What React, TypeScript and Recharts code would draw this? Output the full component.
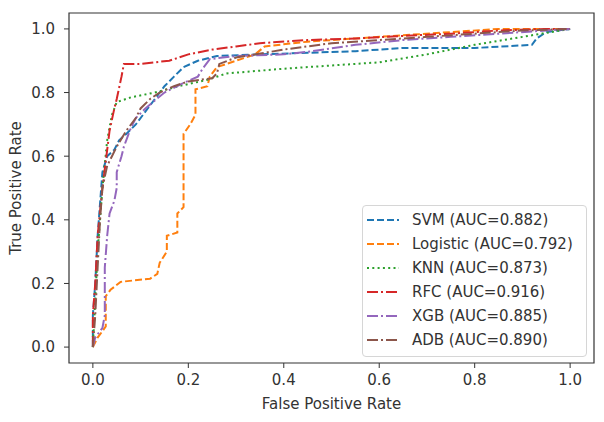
import { LineChart, Line, XAxis, YAxis, Legend, ReferenceArea, Label } from 'recharts';

// ROC points (false positive rate / true positive rate)
const svmFpr = [0, 0, 0.005, 0.01, 0.015, 0.02, 0.03, 0.045, 0.055, 0.07, 0.09, 0.11, 0.13, 0.15, 0.17, 0.19, 0.22, 0.26, 0.35, 0.45, 0.55, 0.65, 0.8, 0.92, 0.93, 0.95, 1];
const svmTpr = [0, 0.1, 0.2, 0.35, 0.45, 0.55, 0.6, 0.62, 0.65, 0.67, 0.7, 0.74, 0.78, 0.82, 0.85, 0.88, 0.9, 0.915, 0.92, 0.925, 0.93, 0.94, 0.94, 0.95, 0.97, 0.99, 1];

const logFpr = [0, 0.01, 0.02, 0.027, 0.027, 0.037, 0.058, 0.12, 0.135, 0.14, 0.155, 0.155, 0.177, 0.177, 0.19, 0.19, 0.204, 0.215, 0.215, 0.24, 0.245, 0.26, 0.3, 0.34, 0.36, 0.45, 0.55, 0.65, 0.75, 0.85, 1];
const logTpr = [0, 0.03, 0.05, 0.065, 0.16, 0.18, 0.205, 0.215, 0.23, 0.265, 0.3, 0.35, 0.36, 0.42, 0.44, 0.67, 0.7, 0.73, 0.81, 0.82, 0.85, 0.88, 0.9, 0.92, 0.945, 0.96, 0.97, 0.98, 0.99, 1, 1];

const knnFpr = [0, 0.01, 0.02, 0.03, 0.04, 0.05, 0.08, 0.13, 0.18, 0.24, 0.28, 0.4, 0.5, 0.6, 0.7, 0.8, 0.9, 1];
const knnTpr = [0, 0.3, 0.5, 0.65, 0.73, 0.77, 0.785, 0.8, 0.82, 0.84, 0.86, 0.875, 0.885, 0.895, 0.92, 0.95, 0.975, 1];

const rfcFpr = [0, 0, 0.005, 0.01, 0.02, 0.03, 0.035, 0.045, 0.05, 0.06, 0.065, 0.1, 0.13, 0.16, 0.2, 0.25, 0.3, 0.35, 0.45, 0.55, 0.65, 0.75, 0.85, 0.95, 1];
const rfcTpr = [0, 0.1, 0.2, 0.35, 0.5, 0.62, 0.68, 0.75, 0.78, 0.85, 0.89, 0.89, 0.895, 0.9, 0.92, 0.935, 0.945, 0.955, 0.965, 0.97, 0.978, 0.985, 0.995, 1, 1];

const xgbFpr = [0, 0.005, 0.02, 0.025, 0.025, 0.03, 0.035, 0.045, 0.05, 0.05, 0.06, 0.065, 0.08, 0.09, 0.11, 0.13, 0.15, 0.19, 0.22, 0.23, 0.245, 0.3, 0.4, 0.46, 0.55, 0.65, 0.75, 0.85, 0.95, 1];
const xgbTpr = [0, 0.03, 0.06, 0.1, 0.25, 0.35, 0.42, 0.46, 0.5, 0.55, 0.6, 0.63, 0.69, 0.72, 0.75, 0.775, 0.8, 0.83, 0.85, 0.875, 0.905, 0.915, 0.92, 0.93, 0.95, 0.965, 0.975, 0.985, 0.995, 1];

const adbFpr = [0, 0.005, 0.01, 0.015, 0.02, 0.03, 0.04, 0.05, 0.07, 0.09, 0.1, 0.12, 0.14, 0.17, 0.2, 0.25, 0.26, 0.265, 0.3, 0.4, 0.5, 0.6, 0.7, 0.8, 0.9, 1];
const adbTpr = [0, 0.1, 0.25, 0.4, 0.5, 0.57, 0.6, 0.63, 0.68, 0.72, 0.75, 0.78, 0.8, 0.82, 0.835, 0.845, 0.86, 0.89, 0.91, 0.935, 0.955, 0.965, 0.975, 0.985, 0.995, 1];

const axisTicks = [0, 0.2, 0.4, 0.6, 0.8, 1.0];

const toPoints = (fpr: number[], tpr: number[]) => fpr.map((x, i) => ({ x, y: tpr[i] }));

interface Series {
  name: string;
  auc: string;
  color: string;
  dash: string;
  points: { x: number; y: number }[];
}

const series: Series[] = [
  { name: 'SVM', auc: '0.882', color: '#1f77b4', dash: '7 3', points: toPoints(svmFpr, svmTpr) },
  { name: 'Logistic', auc: '0.792', color: '#ff7f0e', dash: '7 3', points: toPoints(logFpr, logTpr) },
  { name: 'KNN', auc: '0.873', color: '#2ca02c', dash: '2 3.3', points: toPoints(knnFpr, knnTpr) },
  { name: 'RFC', auc: '0.916', color: '#d62728', dash: '11 3 2 3', points: toPoints(rfcFpr, rfcTpr) },
  { name: 'XGB', auc: '0.885', color: '#9467bd', dash: '11 3 2 3', points: toPoints(xgbFpr, xgbTpr) },
  { name: 'ADB', auc: '0.890', color: '#8c564b', dash: '11 3 2 3', points: toPoints(adbFpr, adbTpr) },
];

const FONT = '"DejaVu Sans", sans-serif';
const INK = '#333';

function RocLegend() {
  return (
    <div
      style={{
        position: 'relative',
        width: 225,
        height: 152,
        boxSizing: 'border-box',
        border: '1px solid #d6d6d6',
        borderRadius: 4,
        background: 'rgba(255,255,255,0.8)',
        fontFamily: FONT,
        fontSize: 15,
        color: INK,
      }}
    >
      {series.map((s, i) => (
        <div key={s.name} style={{ position: 'absolute', left: 0, top: 2 + i * 24, height: 24, lineHeight: '24px', whiteSpace: 'nowrap' }}>
          <svg width={34} height={24} style={{ position: 'absolute', left: 4, top: 0 }}>
            <line x1={0} y1={12} x2={32} y2={12} stroke={s.color} strokeWidth={2} strokeDasharray={s.dash} />
          </svg>
          <span style={{ position: 'absolute', left: 49 }}>{`${s.name} (AUC=${s.auc})`}</span>
        </div>
      ))}
    </div>
  );
}

export default function App() {
  const tickStyle = { fill: INK, fontSize: 15, fontFamily: FONT };
  return (
    <div style={{ position: 'absolute', left: 0, top: 0, background: '#fff' }}>
      <LineChart width={604} height={422} margin={{ top: 13, right: 10, bottom: 0, left: 0 }}>
        <XAxis
          type="number"
          dataKey="x"
          domain={[-0.05, 1.05]}
          ticks={axisTicks}
          allowDataOverflow
          tickFormatter={(v: number) => v.toFixed(1)}
          tick={tickStyle}
          tickSize={5}
          tickMargin={6}
          tickLine={{ stroke: INK }}
          axisLine={false}
          height={59}
        >
          <Label value="False Positive Rate" position="insideBottom" offset={13} style={{ fill: INK, fontSize: 15, fontFamily: FONT }} />
        </XAxis>
        <YAxis
          type="number"
          dataKey="y"
          domain={[-0.05, 1.05]}
          ticks={axisTicks}
          allowDataOverflow
          tickFormatter={(v: number) => v.toFixed(1)}
          tick={tickStyle}
          tickSize={5}
          tickMargin={9}
          tickLine={{ stroke: INK }}
          axisLine={false}
          width={69}
        >
          <Label
            value="True Positive Rate"
            position="insideLeft"
            angle={-90}
            offset={16}
            style={{ fill: INK, fontSize: 15, fontFamily: FONT, textAnchor: 'middle' }}
          />
        </YAxis>
        {series.map((s) => (
          <Line
            key={s.name}
            data={s.points}
            dataKey="y"
            name={s.name}
            type="linear"
            stroke={s.color}
            strokeWidth={2}
            strokeDasharray={s.dash}
            dot={false}
            activeDot={false}
            isAnimationActive={false}
          />
        ))}
        <ReferenceArea x1={-0.05} x2={1.05} y1={-0.05} y2={1.05} stroke={INK} strokeWidth={1.2} fill="none" fillOpacity={0} />
        <Legend
          layout="vertical"
          align="center"
          verticalAlign="middle"
          content={() => <RocLegend />}
          wrapperStyle={{ position: 'absolute', left: 362, top: 205, width: 225, height: 152 }}
        />
      </LineChart>
    </div>
  );
}
